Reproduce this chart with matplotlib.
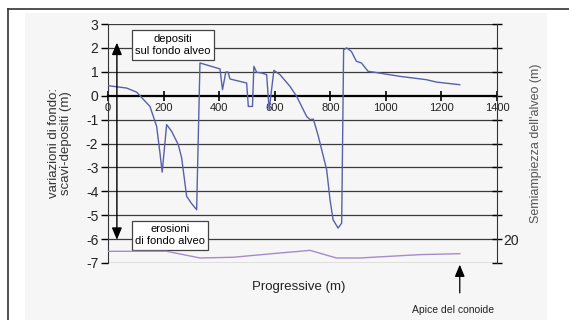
import matplotlib
matplotlib.use("Agg")
import matplotlib.pyplot as plt
from matplotlib.patches import Rectangle
from matplotlib.lines import Line2D

plt.rcParams['font.family'] = ['Liberation Sans', 'DejaVu Sans']

# Bed level change along the channel (m)
progressive = [0, 67, 103, 115, 151, 175, 187, 195, 211, 229, 253, 265, 283, 300, 319, 331,
               403, 412, 424, 432, 439, 499, 505, 520, 525, 535, 553, 571, 580, 597,
               619, 655, 679, 715, 727, 739, 745, 757, 769, 787, 799, 810, 828, 841,
               848, 859, 876, 894, 912, 936, 954, 1050, 1146, 1182, 1266]
bed_change = [0.42, 0.32, 0.15, 0.0, -0.45, -1.28, -2.4, -3.2, -1.21, -1.49, -2.05, -2.6, -4.21, -4.5, -4.77, 1.37,
              1.12, 0.25, 0.99, 0.99, 0.7, 0.53, -0.45, -0.45, 1.23, 0.98, 0.95, 0.88, -0.59, 1.06,
              0.88, 0.39, -0.03, -0.87, -1.0, -0.98, -1.21, -1.7, -2.26, -3.1, -4.35, -5.19, -5.54, -5.33,
              1.92, 2.0, 1.85, 1.44, 1.37, 1.02, 0.99, 0.81, 0.67, 0.57, 0.46]

# Channel half-width (m), right axis
width_x = [0, 211, 331, 450, 619, 690, 727, 822, 906, 1014, 1122, 1266]
half_width = [9.8, 9.8, 4.2, 4.8, 8.4, 9.8, 10.6, 4.2, 4.2, 5.6, 7.0, 7.8]

x_ticks = [0, 200, 400, 600, 800, 1000, 1200, 1400]
y_ticks = [-7, -6, -5, -4, -3, -2, -1, 0, 1, 2, 3]

fig = plt.figure(figsize=(5.69, 3.2), dpi=100)
W, H = 569, 320

# chart frame and background
fig.patches.append(Rectangle((25 / W, 0), (547 - 25) / W, 1 - 13 / H,
                             transform=fig.transFigure, facecolor='#f6f6f6',
                             edgecolor='none', zorder=-5))
fig.add_artist(Line2D([8 / W, 1], [1 - 9 / H, 1 - 9 / H], color='#333333', lw=1.2,
                      transform=fig.transFigure))
fig.add_artist(Line2D([8 / W, 8 / W], [0, 1 - 9 / H], color='#333333', lw=1.2,
                      transform=fig.transFigure))

ax = fig.add_axes([108 / W, 1 - 263 / H, (497 - 108) / W, (263 - 24) / H])
ax.patch.set_alpha(0)
ax.set_xlim(0, 1400)
ax.set_ylim(-7, 3)

for s in ['top', 'right']:
    ax.spines[s].set_visible(False)
ax.spines['bottom'].set_position(('data', 0))
ax.spines['bottom'].set_linewidth(1.6)
ax.spines['left'].set_color('#333333')

for y in y_ticks:
    if y != 0:
        ax.axhline(y, color='#3a3a3a', lw=0.9, zorder=1)

ax.set_xticks(x_ticks)
ax.set_xticklabels([str(v) for v in x_ticks], fontsize=8, color='#222222')
ax.tick_params(axis='x', direction='inout', length=7, width=1.2, pad=2)
ax.set_yticks(y_ticks)
ax.set_yticklabels([str(v) for v in y_ticks], fontsize=10, color='#222222')
ax.tick_params(axis='y', direction='out', length=5, width=1, pad=2)

ax.plot(progressive, bed_change, color='#5860ac', lw=1.0, zorder=4)

ax.set_ylabel('variazioni di fondo:\nscavi-depositi (m)', fontsize=9.5, color='#333333',
              linespacing=1.0, labelpad=10)

# right axis: channel half-width
ax2 = ax.twinx()
ax2.set_ylim(0, 200)
ax2.set_xlim(0, 1400)
for s in ['top', 'bottom', 'left']:
    ax2.spines[s].set_visible(False)
ax2.spines['right'].set_color('#333333')
ticks2 = list(range(0, 201, 20))
ax2.set_yticks(ticks2)
ax2.set_yticklabels(['20' if t == 20 else '' for t in ticks2], fontsize=10, color='#222222')
ax2.tick_params(axis='y', direction='inout', length=7, width=1, pad=1)
ax2.plot(width_x, half_width, color='#a68bc9', lw=1.0, zorder=3)
ax2.set_ylabel("Semiampiezza dell'alveo (m)", fontsize=9, color='#555555', labelpad=8)

# double arrow: deposits up, erosion down
ax.annotate('', xy=(32, 2.22), xytext=(32, -6.03),
            arrowprops=dict(arrowstyle='<|-|>,head_length=0.6,head_width=0.25', color='black',
                            lw=1.0, mutation_scale=12, shrinkA=0, shrinkB=0), zorder=5)

box = dict(boxstyle='square,pad=0.3', facecolor='white', edgecolor='#444444', lw=0.9)
ax.text(234, 2.12, 'depositi\nsul fondo alveo', ha='center', va='center', fontsize=8,
        linespacing=1.3, bbox=box, zorder=6)
ax.text(223, -5.84, 'erosioni\ndi fondo alveo', ha='center', va='center', fontsize=8,
        linespacing=1.3, bbox=box, zorder=6)

fig.text(299 / W, 1 - 287 / H, 'Progressive (m)', ha='center', va='center', fontsize=9.5,
         color='#222222')

ax.annotate('', xy=(1266, -7.07), xytext=(1266, -8.25), annotation_clip=False,
            arrowprops=dict(arrowstyle='-|>,head_length=0.6,head_width=0.25', color='black',
                            lw=0.9, mutation_scale=12, shrinkA=0, shrinkB=0))
fig.text(453 / W, 1 - 310 / H, 'Apice del conoide', ha='center', va='center', fontsize=7.5,
         color='#222222')

fig.savefig('out.png', dpi=100)
